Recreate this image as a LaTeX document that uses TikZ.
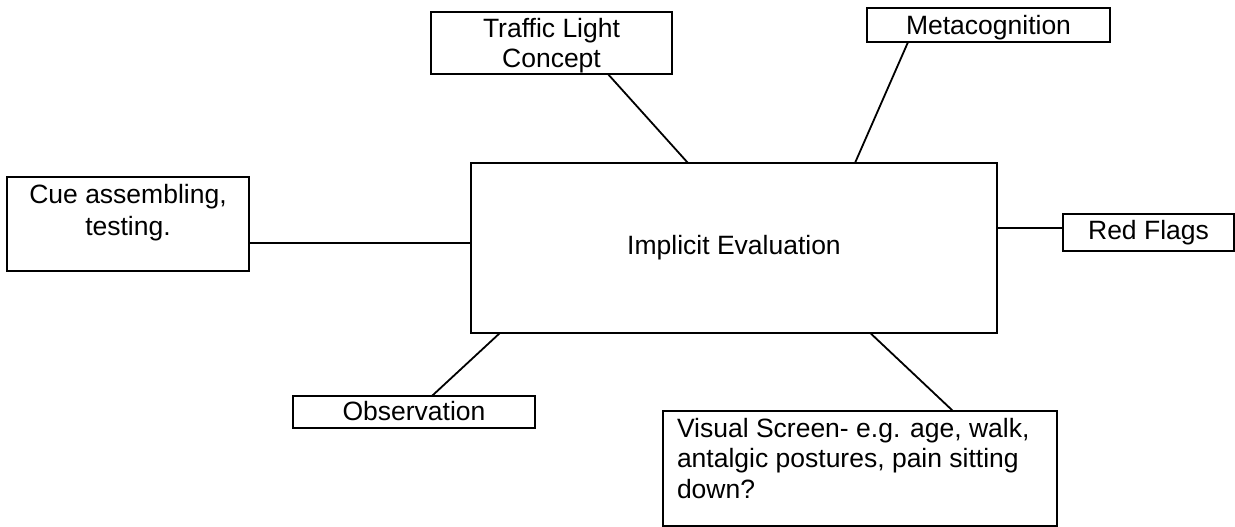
\documentclass[tikz,border=0pt]{standalone}
\usepackage{fontspec}
\setmainfont{Liberation Sans}
\usetikzlibrary{calc}

\begin{document}
\begin{tikzpicture}[x=1pt, y=-1pt,
  box/.style={draw, line width=2.6pt, inner sep=0pt, outer sep=0pt,
    font=\fontsize{26.5}{30.5}\selectfont},
  link/.style={line width=1.8pt}]
\useasboundingbox (0,0) rectangle (1235,527);

% central topic
\node[box] (cen) at (734,248)
  {\parbox[c][170pt][c]{526pt}{\centering Implicit Evaluation}};

% surrounding topics
\node[box] (tl) at (551.5,43)
  {\parbox[c][62pt][t]{241pt}{\centering\rule{0pt}{25pt}Traffic Light\\Concept}};
\node[box] (meta) at (988.5,25)
  {\parbox[c][34pt][t]{243pt}{\centering\rule{0pt}{27pt}Metacognition}};
\node[box] (cue) at (128,224)
  {\parbox[c][94pt][t]{242pt}{\centering\rule{0pt}{26pt}Cue assembling,\\[1.5pt]testing.}};
\node[box] (rf) at (1148.5,232.5)
  {\parbox[c][37pt][t]{171pt}{\centering\rule{0pt}{25pt}Red Flags}};
\node[box] (obs) at (414,412)
  {\parbox[c][32pt][t]{242pt}{\centering\rule{0pt}{24pt}Observation}};
\node[box] (vis) at (860,468.5)
  {\parbox[c][115pt][t]{394pt}{\raggedright\leftskip=14pt\rule{0pt}{26pt}Visual Screen- e.g. age, walk,\\antalgic postures, pain sitting\\down?}};

% connectors
\draw[link] ($(tl.south west)!0.734!(tl.south east)$) -- ($(cen.north west)!0.4125!(cen.north east)$);
\draw[link] ($(meta.south west)!0.169!(meta.south east)$) -- ($(cen.north west)!0.730!(cen.north east)$);
\coordinate (cueA) at ($(cue.north east)!0.70!(cue.south east)$);
\draw[link] (cueA) -- (cueA -| cen.west);
\coordinate (rfA) at ($(rf.north west)!0.378!(rf.south west)$);
\draw[link] (rfA) -- (rfA -| cen.east);
\draw[link] ($(obs.north west)!0.574!(obs.north east)$) -- ($(cen.south west)!0.055!(cen.south east)$);
\draw[link] ($(vis.north west)!0.736!(vis.north east)$) -- ($(cen.south west)!0.759!(cen.south east)$);
\end{tikzpicture}
\end{document}
